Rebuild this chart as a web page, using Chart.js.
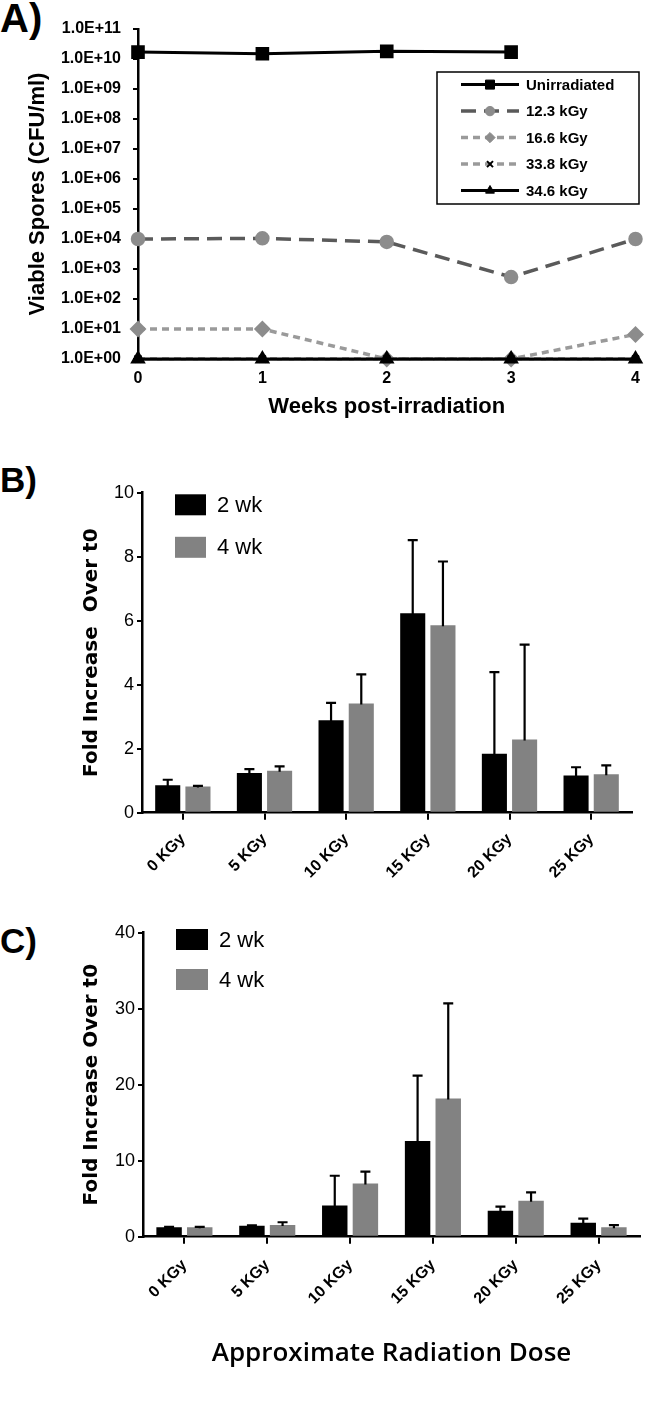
<!DOCTYPE html>
<html>
<head>
<meta charset="utf-8">
<script src="https://cdn.jsdelivr.net/npm/chart.js@4.4.0/dist/chart.umd.min.js"></script>
<style>
  html, body { margin: 0; padding: 0; background: #fff; }
  body { width: 646px; height: 1403px; position: relative; overflow: hidden; }
  canvas { position: absolute; left: 0; }
  .tag { position: absolute; left: 0; font-family: "Liberation Sans", Arial, sans-serif; font-weight: bold; line-height: 1; color: #000; }
</style>
</head>
<body>
<div class="tag" style="top:-2px;font-size:40px">A)</div>
<div class="tag" style="top:462px;font-size:35px">B)</div>
<div class="tag" style="top:923px;font-size:35px">C)</div>
<canvas id="chartA" width="646" height="420" style="top:0"></canvas>
<canvas id="chartB" width="646" height="465" style="top:430px"></canvas>
<canvas id="chartC" width="646" height="503" style="top:900px"></canvas>
<script>
// Panel A: viable spores over time (log scale)
const weeks = [0, 1, 2, 3, 4];
const seriesNames = ['Unirradiated', '12.3 kGy', '16.6 kGy', '33.8 kGy', '34.6 kGy'];
const unirradiated = [1.7e10, 1.5e10, 1.8e10, 1.7e10]; // no week 4 reading
const dose12 = [1.0e4, 1.05e4, 8.0e3, 5.4e2, 1.0e4];
const dose16 = [10, 10, 1, 1, 6.6];
const dose33 = [1, 1, 1, 1, 1];
const dose34 = [1, 1, 1, 1, 1];
const logTicks = [1, 1e1, 1e2, 1e3, 1e4, 1e5, 1e6, 1e7, 1e8, 1e9, 1e10, 1e11];

// Panels B and C: fold increase over t0
const doseLabels = ['0 KGy', '5 KGy', '10 KGy', '15 KGy', '20 KGy', '25 KGy'];
const weekNames = ['2 wk', '4 wk'];
const b2wk = [0.86, 1.24, 2.89, 6.23, 1.84, 1.16];
const b2wkErr = [0.17, 0.12, 0.54, 2.29, 2.55, 0.26];
const b4wk = [0.82, 1.31, 3.41, 5.86, 2.29, 1.2];
const b4wkErr = [0.02, 0.14, 0.91, 1.99, 2.96, 0.28];
const c2wk = [1.25, 1.45, 4.12, 12.6, 3.4, 1.84];
const c2wkErr = [0.05, 0.05, 3.9, 8.6, 0.55, 0.53];
const c4wk = [1.23, 1.53, 7.0, 18.2, 4.74, 1.23];
const c4wkErr = [0.05, 0.37, 1.55, 12.5, 1.1, 0.3];

const FONT = '"Liberation Sans", Arial, sans-serif';
Chart.defaults.font.family = FONT;
Chart.defaults.color = '#000';

const toPoints = (vals) => vals.map((v, i) => ({x: weeks[i], y: v}));

// legend box for the line chart (line + marker + label)
const lineLegend = {
    id: 'lineLegend',
    afterDraw(chart, args, opts) {
        const ctx = chart.ctx;
        ctx.save();
        ctx.fillStyle = '#fff';
        ctx.fillRect(opts.left, opts.top, opts.width, opts.height);
        ctx.strokeStyle = '#000';
        ctx.lineWidth = 1.5;
        ctx.strokeRect(opts.left, opts.top, opts.width, opts.height);
        chart.data.datasets.forEach((ds, i) => {
            const y = opts.top + 12.6 + i * 26.5;
            const x0 = opts.left + 24, x1 = opts.left + 82;
            ctx.strokeStyle = ds.borderColor;
            ctx.lineWidth = ds.borderWidth;
            ctx.setLineDash(ds.borderDash || []);
            ctx.beginPath();
            ctx.moveTo(x0, y);
            ctx.lineTo(x1, y);
            ctx.stroke();
            ctx.setLineDash([]);
            ctx.fillStyle = ds.pointBackgroundColor;
            ctx.strokeStyle = ds.pointBorderColor;
            ctx.lineWidth = ds.pointBorderWidth || 1;
            Chart.helpers.drawPoint(ctx, {pointStyle: ds.pointStyle, radius: ds.pointRadius * 0.85, borderWidth: ds.pointBorderWidth || 1, rotation: 0}, (x0 + x1) / 2, y);
            ctx.fillStyle = '#000';
            ctx.font = 'bold 15px ' + FONT;
            ctx.textBaseline = 'middle';
            ctx.fillText(ds.label, opts.left + 89, y + 1);
        });
        ctx.restore();
    }
};

const chartA = new Chart(document.getElementById('chartA'), {
    type: 'line',
    data: {
        datasets: [
            {
                label: seriesNames[0], data: toPoints(unirradiated),
                borderColor: '#000', borderWidth: 3,
                pointStyle: 'rect', pointRadius: 7.5, pointBackgroundColor: '#000', pointBorderColor: '#000',
                clip: false, order: 2
            },
            {
                label: seriesNames[1], data: toPoints(dose12),
                borderColor: '#5a5a5a', borderWidth: 3.5, borderDash: [15, 8],
                pointStyle: 'circle', pointRadius: 5.5, pointBackgroundColor: '#8c8c8c', pointBorderColor: '#8c8c8c',
                clip: false, order: 3
            },
            {
                label: seriesNames[2], data: toPoints(dose16),
                borderColor: '#9a9a9a', borderWidth: 3.5, borderDash: [7, 5],
                pointStyle: 'rectRot', pointRadius: 6, pointBackgroundColor: '#8c8c8c', pointBorderColor: '#8c8c8c',
                clip: false, order: 4
            },
            {
                label: seriesNames[3], data: toPoints(dose33),
                borderColor: '#9a9a9a', borderWidth: 3.5, borderDash: [7, 5],
                pointStyle: 'crossRot', pointRadius: 5, pointBorderWidth: 2, pointBackgroundColor: '#000', pointBorderColor: '#000',
                clip: false, order: 1
            },
            {
                label: seriesNames[4], data: toPoints(dose34),
                borderColor: '#000', borderWidth: 3,
                pointStyle: 'triangle', pointRadius: 6, pointBackgroundColor: '#000', pointBorderColor: '#000',
                clip: false, order: 0
            }
        ]
    },
    options: {
        responsive: false,
        animation: false,
        devicePixelRatio: 1,
        layout: {padding: {top: 29, right: 9, left: 0, bottom: 0}},
        elements: {line: {tension: 0}},
        plugins: {
            legend: {display: false},
            tooltip: {enabled: false},
            lineLegend: {left: 437, top: 72, width: 202, height: 132}
        },
        scales: {
            x: {
                type: 'linear', min: 0, max: 4,
                afterFit: (scale) => { scale.height = 61; },
                ticks: {stepSize: 1, padding: 6, font: {size: 16, weight: 'bold'}},
                grid: {drawOnChartArea: false, drawTicks: true, tickLength: 4, color: '#000', lineWidth: 2},
                border: {color: '#000', width: 2.5},
                title: {display: true, text: 'Weeks post-irradiation', font: {size: 22, weight: 'bold'}, padding: {top: 0, bottom: 0}}
            },
            y: {
                type: 'logarithmic', min: 1, max: 1e11,
                afterFit: (scale) => { scale.width = 138; },
                afterBuildTicks: (scale) => { scale.ticks = logTicks.map(v => ({value: v})); },
                ticks: {
                    padding: 12,
                    font: {size: 16, weight: 'bold'},
                    callback: (v) => {
                        const e = Math.round(Math.log10(v));
                        return '1.0E+' + (e < 10 ? '0' : '') + e;
                    }
                },
                grid: {drawOnChartArea: false, drawTicks: true, tickLength: 5, color: '#000', lineWidth: 2},
                border: {color: '#000', width: 2.5},
                title: {display: true, text: 'Viable Spores (CFU/ml)', font: {size: 22, weight: 'bold'}, padding: {top: 25, bottom: 0}}
            }
        }
    },
    plugins: [lineLegend]
});

// upper error bars drawn from each bar's top
const errorBars = {
    id: 'errorBars',
    afterDatasetsDraw(chart) {
        const ctx = chart.ctx;
        const yScale = chart.scales.y;
        ctx.save();
        ctx.strokeStyle = '#000';
        ctx.lineWidth = 2.2;
        chart.data.datasets.forEach((ds, di) => {
            const meta = chart.getDatasetMeta(di);
            meta.data.forEach((bar, i) => {
                const top = yScale.getPixelForValue(ds.data[i] + ds.errors[i]);
                ctx.beginPath();
                ctx.moveTo(bar.x, bar.y + 1);
                ctx.lineTo(bar.x, top);
                ctx.moveTo(bar.x - 5, top);
                ctx.lineTo(bar.x + 5, top);
                ctx.stroke();
            });
        });
        ctx.restore();
    }
};

// square swatch legend for the bar charts
const barLegend = {
    id: 'barLegend',
    afterDraw(chart, args, opts) {
        const ctx = chart.ctx;
        ctx.save();
        chart.data.datasets.forEach((ds, i) => {
            const y = opts.top + i * opts.gap;
            ctx.fillStyle = ds.backgroundColor;
            ctx.fillRect(opts.left, y, opts.w, opts.h);
            ctx.fillStyle = '#000';
            ctx.font = '22px ' + FONT;
            ctx.textBaseline = 'middle';
            ctx.fillText(ds.label, opts.left + opts.w + 11, y + opts.h / 2 + 1);
        });
        ctx.restore();
    }
};

function makeBarChart(id, vals2, errs2, vals4, errs4, yMax, yStep, layout) {
    return new Chart(document.getElementById(id), {
        type: 'bar',
        data: {
            labels: doseLabels,
            datasets: [
                {label: weekNames[0], data: vals2, errors: errs2, backgroundColor: '#000'},
                {label: weekNames[1], data: vals4, errors: errs4, backgroundColor: '#828282'}
            ]
        },
        options: {
            responsive: false,
            animation: false,
            devicePixelRatio: 1,
            categoryPercentage: 0.74,
            barPercentage: 0.83,
            layout: {padding: {top: layout.top, right: layout.right, left: 0, bottom: 0}},
            plugins: {
                legend: {display: false},
                tooltip: {enabled: false},
                barLegend: layout.legend
            },
            scales: {
                x: {
                    afterFit: (scale) => { scale.height = layout.xHeight; },
                    ticks: {minRotation: 45, maxRotation: 45, padding: layout.xPad, font: {size: 16, weight: 'bold'}},
                    grid: {offset: false, drawOnChartArea: false, drawTicks: true, tickLength: 7, color: '#000', lineWidth: 2},
                    border: {color: '#000', width: 2.5},
                    title: layout.xTitle
                },
                y: {
                    min: 0, max: yMax,
                    afterFit: (scale) => { scale.width = layout.yWidth; },
                    ticks: {stepSize: yStep, padding: 3, font: {size: 18}},
                    grid: {drawOnChartArea: false, drawTicks: true, tickLength: 5, color: '#000', lineWidth: 2},
                    border: {color: '#000', width: 2.5},
                    title: {display: true, text: layout.yTitle, font: {family: 'DejaVu Sans', size: 20, weight: 'bold'}, padding: {top: 80, bottom: 0}}
                }
            }
        },
        plugins: [errorBars, barLegend]
    });
}

const chartB = makeBarChart('chartB', b2wk, b2wkErr, b4wk, b4wkErr, 10, 2, {
    top: 62.7, right: 14, xHeight: 82.3, yWidth: 142, xPad: 10,
    yTitle: 'Fold Increase  Over t0',
    xTitle: {display: false},
    legend: {left: 175, top: 64.3, gap: 42.5, w: 31, h: 21}
});

const chartC = makeBarChart('chartC', c2wk, c2wkErr, c4wk, c4wkErr, 40, 10, {
    top: 32.7, right: 6, xHeight: 166.3, yWidth: 143, xPad: 12,
    yTitle: 'Fold Increase Over t0',
    xTitle: {display: true, text: 'Approximate Radiation Dose', font: {family: 'Open Sans', size: 26, weight: '600'}, padding: {top: 0, bottom: 34}},
    legend: {left: 176, top: 29, gap: 40, w: 32, h: 21}
});
</script>
</body>
</html>
